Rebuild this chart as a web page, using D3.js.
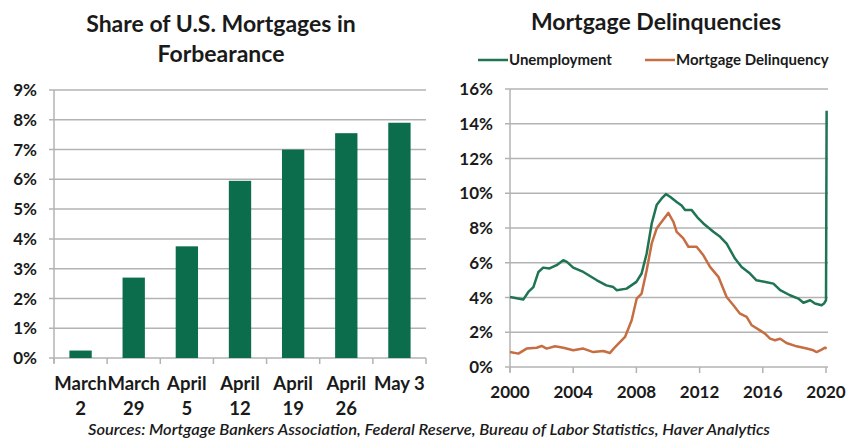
<!DOCTYPE html>
<html>
<head>
<meta charset="utf-8">
<script src="https://cdn.jsdelivr.net/npm/d3@7"></script>
<style>
  html, body { margin: 0; padding: 0; background: #fff; }
  svg { display: block; font-family: Lato, "Open Sans", sans-serif; }
</style>
</head>
<body>
<svg id="chart" width="847" height="439"></svg>
<script>
// Left panel: share of mortgages in forbearance (%)
const weekLabels = [["March", "2"], ["March", "29"], ["April", "5"], ["April", "12"], ["April", "19"], ["April", "26"], ["May 3", ""]];
const forbearance = [0.25, 2.7, 3.75, 5.95, 7.0, 7.55, 7.9];
const leftTicks = [0, 1, 2, 3, 4, 5, 6, 7, 8, 9];

// Right panel: unemployment and mortgage delinquency rates (%)
const unempYears = [2000, 2000.84, 2001.16, 2001.48, 2001.8, 2002.1, 2002.5, 2002.95, 2003.37, 2003.6, 2004.0, 2004.64, 2005.5, 2006.1, 2006.54, 2006.75, 2007.38, 2008.0, 2008.33, 2008.65, 2008.97, 2009.28, 2009.6, 2009.87, 2010.13, 2010.55, 2010.86, 2011.08, 2011.5, 2011.92, 2012.24, 2012.87, 2013.3, 2013.71, 2014.24, 2014.66, 2015.19, 2015.6, 2016.24, 2016.67, 2017.1, 2017.72, 2018.25, 2018.57, 2019.0, 2019.3, 2019.72, 2019.87, 2020.0, 2020.04];
const unempRate = [4.03, 3.88, 4.32, 4.6, 5.47, 5.72, 5.67, 5.86, 6.15, 6.05, 5.72, 5.47, 4.99, 4.7, 4.6, 4.42, 4.51, 4.9, 5.38, 6.53, 8.26, 9.32, 9.7, 9.95, 9.8, 9.5, 9.3, 9.03, 9.03, 8.55, 8.26, 7.78, 7.49, 7.1, 6.24, 5.76, 5.38, 4.99, 4.88, 4.8, 4.42, 4.13, 3.94, 3.7, 3.84, 3.65, 3.55, 3.65, 3.84, 14.75];
const delinqYears = [2000, 2000.53, 2001.05, 2001.69, 2002.0, 2002.32, 2002.85, 2003.38, 2004.0, 2004.64, 2005.27, 2005.9, 2006.33, 2006.65, 2007.28, 2007.7, 2008.02, 2008.33, 2008.65, 2008.97, 2009.28, 2009.6, 2010.02, 2010.34, 2010.55, 2010.97, 2011.29, 2011.6, 2011.81, 2012.24, 2012.66, 2013.19, 2013.71, 2014.14, 2014.56, 2014.98, 2015.3, 2015.82, 2016.14, 2016.46, 2016.77, 2017.1, 2017.5, 2018.14, 2018.78, 2019.2, 2019.41, 2019.72, 2019.94, 2020.04];
const delinqRate = [0.86, 0.77, 1.06, 1.11, 1.21, 1.06, 1.19, 1.11, 0.96, 1.06, 0.86, 0.92, 0.81, 1.15, 1.73, 2.69, 3.94, 4.23, 5.57, 7.11, 7.97, 8.36, 8.87, 8.36, 7.78, 7.4, 6.92, 6.92, 6.92, 6.43, 5.76, 5.19, 4.03, 3.55, 3.07, 2.88, 2.4, 2.11, 1.92, 1.63, 1.54, 1.63, 1.38, 1.19, 1.06, 0.96, 0.86, 1.0, 1.11, 1.06];
const rightTicks = [0, 2, 4, 6, 8, 10, 12, 14, 16];
const yearTicks = [2000, 2004, 2008, 2012, 2016, 2020];

const green = "#0b6d4b";
const lineGreen = "#1f7452";
const orange = "#c66d42";
const grid = "#b3b3b3";
const ink = "#1a1a1a";

const svg = d3.select("#chart");

// ---------- left panel ----------
const x = d3.scaleBand().domain(d3.range(weekLabels.length)).range([54, 426]).paddingInner(0.58).paddingOuter(0.29);
const y = d3.scaleLinear().domain([0, 9]).range([358, 90]);

const left = svg.append("g");

left.append("text").attr("x", 221).attr("y", 32).attr("text-anchor", "middle")
  .style("font-size", "23px").style("font-weight", "bold").attr("fill", ink)
  .text("Share of U.S. Mortgages in");
left.append("text").attr("x", 221).attr("y", 62).attr("text-anchor", "middle")
  .style("font-size", "23px").style("font-weight", "bold").attr("fill", ink)
  .text("Forbearance");

left.selectAll(".grid").data(leftTicks.slice(1)).join("line")
  .attr("x1", 49).attr("x2", 426)
  .attr("y1", d => y(d)).attr("y2", d => y(d))
  .attr("stroke", grid).attr("stroke-width", 1.5);

// y axis line, baseline and ticks
left.append("line").attr("x1", 54).attr("x2", 54).attr("y1", 90).attr("y2", 363).attr("stroke", grid).attr("stroke-width", 1.5);
left.append("line").attr("x1", 49).attr("x2", 426).attr("y1", 358).attr("y2", 358).attr("stroke", grid).attr("stroke-width", 1.5);
const step = x.step();
left.selectAll(".xtick").data(d3.range(weekLabels.length + 1)).join("line")
  .attr("x1", i => 54 + i * step).attr("x2", i => 54 + i * step)
  .attr("y1", 358).attr("y2", 364)
  .attr("stroke", grid).attr("stroke-width", 1.5);

left.selectAll(".bar").data(forbearance).join("rect")
  .attr("x", (d, i) => x(i)).attr("width", x.bandwidth())
  .attr("y", d => y(d)).attr("height", d => y(0) - y(d))
  .attr("fill", green);

left.selectAll(".ylab").data(leftTicks).join("text")
  .attr("x", 37).attr("y", d => y(d)).attr("dy", "0.36em").attr("text-anchor", "end")
  .style("font-size", "17px").style("font-weight", "bold").attr("fill", ink)
  .text(d => d + "%");

const xl = left.selectAll(".xlab").data(weekLabels).join("text")
  .attr("text-anchor", "middle")
  .style("font-size", "18.5px").style("font-weight", "bold").attr("fill", ink);
xl.append("tspan").attr("x", (d, i) => x(i) + x.bandwidth() / 2).attr("y", 390).text(d => d[0]);
xl.append("tspan").attr("x", (d, i) => x(i) + x.bandwidth() / 2).attr("y", 415).text(d => d[1]);

// ---------- right panel ----------
const xr = d3.scaleLinear().domain([2000, 2020]).range([510, 826]);
const yr = d3.scaleLinear().domain([0, 16]).range([367, 89]);

const right = svg.append("g");

right.append("text").attr("x", 656).attr("y", 30).attr("text-anchor", "middle")
  .style("font-size", "23px").style("font-weight", "bold").attr("fill", ink)
  .text("Mortgage Delinquencies");

// legend
const legend = [["Unemployment", lineGreen, 478], ["Mortgage Delinquency", orange, 645]];
legend.forEach(([name, col, lx]) => {
  right.append("line").attr("x1", lx).attr("x2", lx + 30).attr("y1", 60).attr("y2", 60)
    .attr("stroke", col).attr("stroke-width", 2.5);
  right.append("text").attr("x", lx + 31).attr("y", 60).attr("dy", "0.36em")
    .style("font-size", "15px").style("font-weight", "bold").attr("fill", ink).text(name);
});

right.selectAll(".grid").data(rightTicks.slice(1)).join("line")
  .attr("x1", 505).attr("x2", 828)
  .attr("y1", d => yr(d)).attr("y2", d => yr(d))
  .attr("stroke", grid).attr("stroke-width", 1.5);
right.append("line").attr("x1", 510).attr("x2", 510).attr("y1", 89).attr("y2", 372).attr("stroke", grid).attr("stroke-width", 1.5);
right.append("line").attr("x1", 505).attr("x2", 828).attr("y1", 367).attr("y2", 367).attr("stroke", grid).attr("stroke-width", 1.5);
right.selectAll(".xtick").data(yearTicks).join("line")
  .attr("x1", d => xr(d)).attr("x2", d => xr(d)).attr("y1", 367).attr("y2", 373)
  .attr("stroke", grid).attr("stroke-width", 1.5);

right.selectAll(".ylab").data(rightTicks).join("text")
  .attr("x", 493).attr("y", d => yr(d)).attr("dy", "0.36em").attr("text-anchor", "end")
  .style("font-size", "17px").style("font-weight", "bold").attr("fill", ink)
  .text(d => d + "%");
right.selectAll(".xlab").data(yearTicks).join("text")
  .attr("x", d => xr(d)).attr("y", 398).attr("text-anchor", "middle")
  .style("font-size", "17px").style("font-weight", "bold").attr("fill", ink)
  .text(d => d);

const line = d3.line().x(d => xr(d[0])).y(d => yr(d[1]));
right.append("path").datum(d3.zip(delinqYears, delinqRate)).attr("d", line)
  .attr("fill", "none").attr("stroke", orange).attr("stroke-width", 2.5).attr("stroke-linejoin", "round");
right.append("path").datum(d3.zip(unempYears, unempRate)).attr("d", line)
  .attr("fill", "none").attr("stroke", lineGreen).attr("stroke-width", 2.5).attr("stroke-linejoin", "round");

// source note
svg.append("text").attr("x", 88).attr("y", 435)
  .attr("textLength", 682).attr("lengthAdjust", "spacingAndGlyphs")
  .style("font-size", "16px").style("font-style", "italic").style("font-weight", "600").attr("fill", ink)
  .text("Sources: Mortgage Bankers Association, Federal Reserve, Bureau of Labor Statistics, Haver Analytics");
</script>
</body>
</html>
